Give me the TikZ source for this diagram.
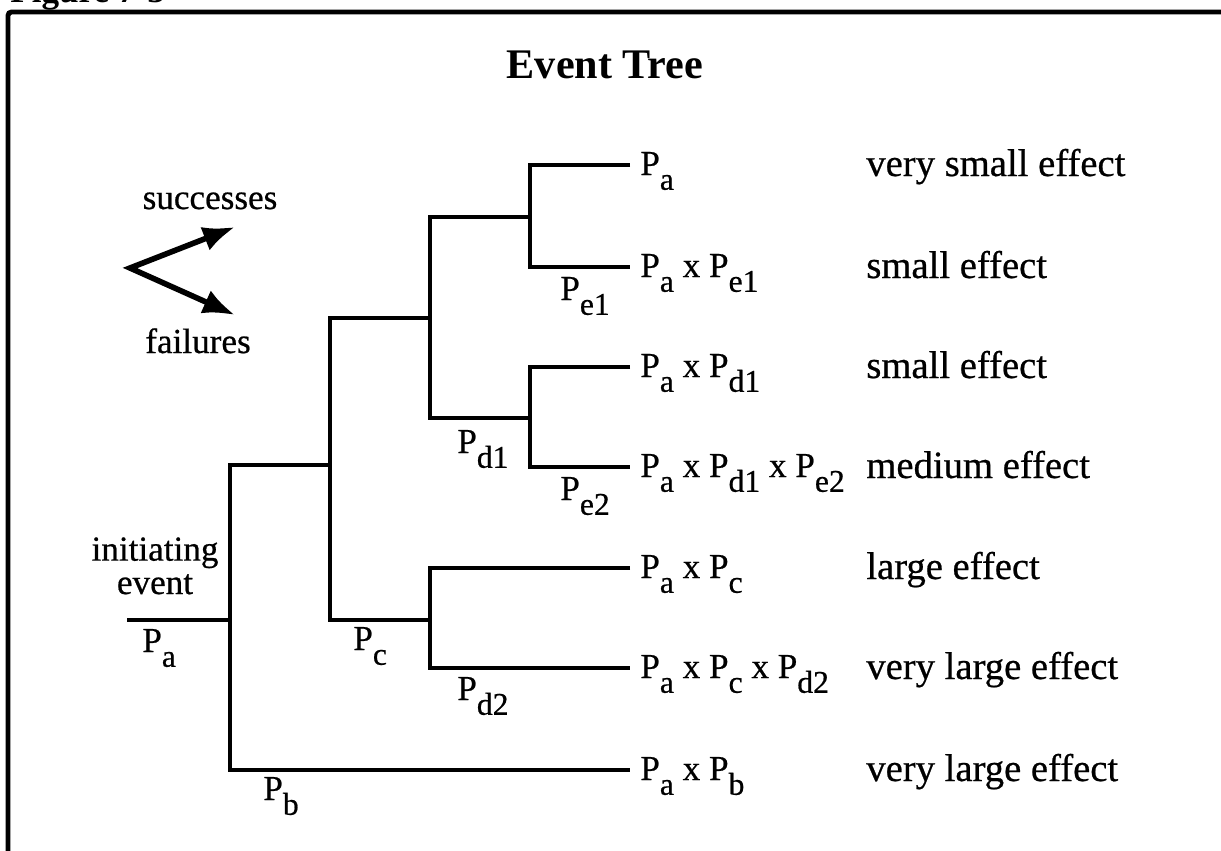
\documentclass[tikz,border=0pt]{standalone}
\usepackage{fontspec}
\setmainfont{Liberation Serif}
\newfontfamily\scanfont{Liberation Serif}[FakeBold=0.6]
\usetikzlibrary{arrows.meta,positioning}
\newcommand{\Psub}[1]{P\raisebox{-0.42em}{\fontsize{18}{19}\selectfont #1}}
\begin{document}
\begin{tikzpicture}[x=0.02cm, y=-0.02cm, >={Latex[length=6.4mm,width=5mm]},
    branch/.style={line width=2.8pt},
    txt/.style={inner sep=0pt, font=\scanfont\fontsize{20}{19}\selectfont},
    outcome/.style={txt, anchor=base west},
    effect/.style={txt, anchor=base west, font=\scanfont\fontsize{22}{22}\selectfont},
    plabel/.style={txt, anchor=base west}]
    \path[use as bounding box, clip] (0,0) rectangle (1221,850);

    % frame and captions
    \draw[line width=2.8pt, rounded corners=2pt] (8,870) -- (8,12) -- (1240,12);
    \node[txt, font=\fontsize{20}{22}\selectfont\bfseries, anchor=base west] (fig) at (10,2) {Figure 7-3};
    \node[txt, font=\fontsize{24}{28}\selectfont\bfseries] (title) at (605,65) {Event Tree};

    % legend
    \coordinate (lv) at (130,268);
    \coordinate (ls) at (235,227);
    \coordinate (lf) at (235,315);
    \draw[line width=3.2pt, <->] (ls) -- (lv) -- (lf);
    \node[txt, anchor=base] (succ) at (210,209) {successes};
    \node[txt, anchor=base] (fail) at (198,353) {failures};

    % junctions and ends
    \coordinate (ie) at (127,620);
    \coordinate (j1) at (230,620);
    \coordinate (j2) at (330,465);
    \coordinate (j3) at (430,318);
    \coordinate (j4) at (430,620);
    \coordinate (j5) at (530,217);
    \coordinate (j6) at (530,418);
    \coordinate (e1) at (630,165);
    \coordinate (e2) at (630,267);
    \coordinate (e3) at (630,367);
    \coordinate (e4) at (630,467);
    \coordinate (e5) at (630,568);
    \coordinate (e6) at (630,668);
    \coordinate (e7) at (630,770);

    % tree
    \draw[branch] (ie) -- (j1);
    \draw[branch] (j2) -| (j1) |- (e7);
    \draw[branch] (j3) -| (j2) |- (j4);
    \draw[branch] (j5) -| (j3) |- (j6);
    \draw[branch] (e1) -| (j5) |- (e2);
    \draw[branch] (e3) -| (j6) |- (e4);
    \draw[branch] (e5) -| (j4) |- (e6);

    \node[txt, align=center, anchor=base] (init) at (155,594) {initiating\\event};
    \node[plabel] (pa) at (142,652) {\Psub{a}};
    \node[plabel] (pb) at (263,800) {\Psub{b}};
    \node[plabel] (pc) at (353,650) {\Psub{c}};
    \node[plabel] (pd1) at (457,453) {\Psub{d1}};
    \node[plabel] (pd2) at (457,700) {\Psub{d2}};
    \node[plabel] (pe1) at (560,300) {\Psub{e1}};
    \node[plabel] (pe2) at (560,500) {\Psub{e2}};

    % outcomes
    \node[outcome] (o1) at (640,175) {\Psub{a}};
    \node[outcome] (o2) at (640,277) {\Psub{a} x \Psub{e1}};
    \node[outcome] (o3) at (640,377) {\Psub{a} x \Psub{d1}};
    \node[outcome] (o4) at (640,477) {\Psub{a} x \Psub{d1} x \Psub{e2}};
    \node[outcome] (o5) at (640,578) {\Psub{a} x \Psub{c}};
    \node[outcome] (o6) at (640,678) {\Psub{a} x \Psub{c} x \Psub{d2}};
    \node[outcome] (o7) at (640,780) {\Psub{a} x \Psub{b}};

    \node[effect] (f1) at (866,176) {very small effect};
    \node[effect] (f2) at (866,278) {small effect};
    \node[effect] (f3) at (866,378) {small effect};
    \node[effect] (f4) at (866,478) {medium effect};
    \node[effect] (f5) at (866,579) {large effect};
    \node[effect] (f6) at (866,679) {very large effect};
    \node[effect] (f7) at (866,781) {very large effect};
\end{tikzpicture}
\end{document}
